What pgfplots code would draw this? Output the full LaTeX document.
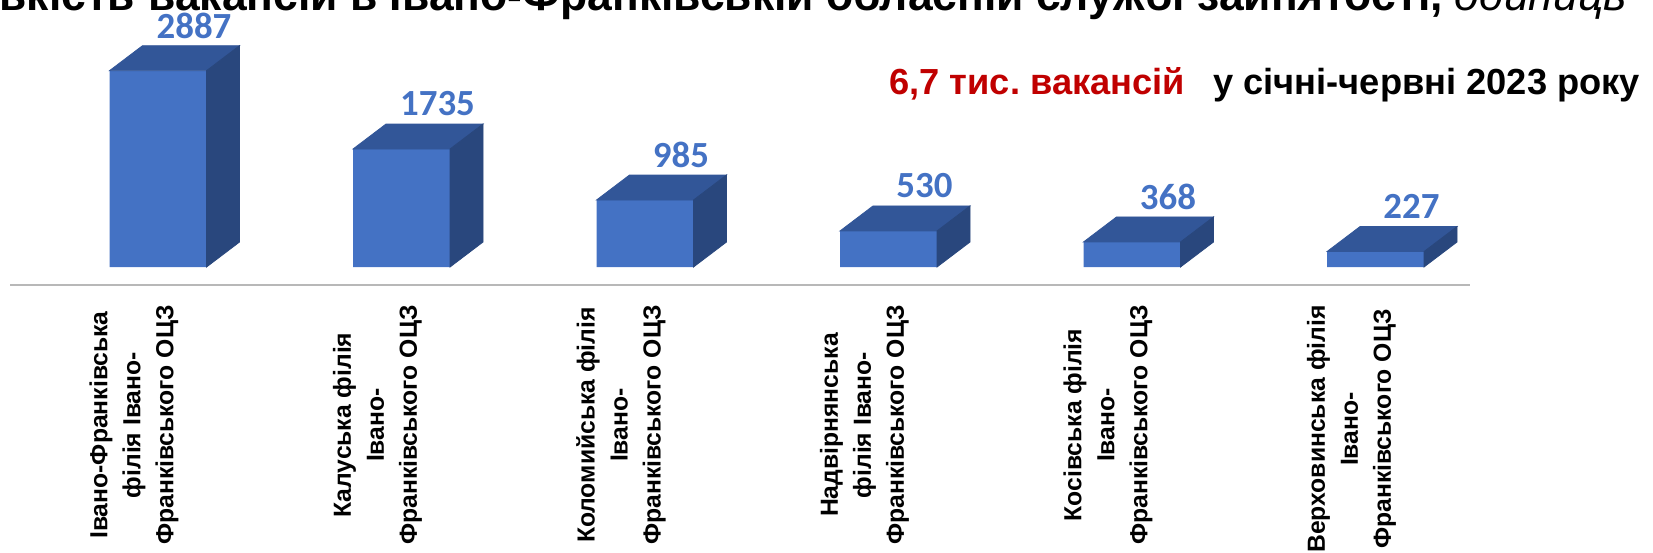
\documentclass[border=0pt]{standalone}
\usepackage{fontspec}
\setmainfont{Liberation Sans}
\newfontfamily\carlito{Carlito}
\usepackage{pgfplots}
\usepackage{pgfplotstable}
\pgfplotsset{compat=1.18}
\frenchspacing
\definecolor{barfront}{RGB}{68,114,196}
\definecolor{bartop}{RGB}{50,86,152}
\definecolor{barside}{RGB}{41,71,125}
\definecolor{lblue}{RGB}{68,114,196}
\definecolor{darkred}{RGB}{192,0,0}
\pgfdeclareplotmark{emptymark}{}
\pgfplotstableread{
x v lab
0 2887 2887
1 1735 1735
2 985 985
3 530 530
4 368 368
5 227 227
}\data
\begin{document}
\begin{tikzpicture}
\useasboundingbox (0,0) rectangle (826.5bp,276.5bp);
\clip (0,0) rectangle (826.5bp,276.5bp);
% title (cut at top as in the reference)
\node[anchor=base east, inner sep=0pt, font=\bfseries\fontsize{22.3}{26}\selectfont] at (67.8bp,271bp) {Кількість};
\node[anchor=base west, inner sep=0pt, font=\bfseries\fontsize{22.3}{26}\selectfont] at (74bp,271bp) {вакансій в Івано-Франківській обласній службі зайнятості, {\mdseries\itshape одиниць}};
% subtitle
\node[anchor=base west, inner sep=0pt, font=\bfseries\fontsize{18.2}{22}\selectfont] at (444.5bp,229bp) {{\color{darkred}6,7 тис. вакансій}\hspace{0.5em} у січні-червні 2023 року};
% floor line
\draw[line width=1bp, black!28] (5bp,134bp) -- (735bp,134bp);
\begin{axis}[
  at={(5.95bp,143bp)}, anchor=south west,
  scale only axis, width=754.85bp, height=102bp,
  xmin=-0.6, xmax=5.6, ymin=0, ymax=3000,
  enlargelimits=false, clip=false,
  axis line style={draw=none}, tick style={draw=none},
  ytick=\empty,
  xtick={0,1,2,3,4,5},
  xticklabels={{Івано-Франківська\\філія Івано-\\Франківського ОЦЗ},
               {Калуська філія\\Івано-\\Франківського ОЦЗ},
               {Коломийська філія\\Івано-\\Франківського ОЦЗ},
               {Надвірнянська\\філія Івано-\\Франківського ОЦЗ},
               {Косівська філія\\Івано-\\Франківського ОЦЗ},
               {Верховинська філія\\Івано-\\Франківського ОЦЗ}},
  xticklabel style={font=\bfseries\fontsize{12.4}{16.6}\selectfont, xshift=-12bp, yshift=-19bp, rotate=90, anchor=east, align=center, inner sep=0pt},
]
\addplot[ybar, bar width=48.5bp, fill=barfront, draw=none] table[x=x,y=v] {\data};
\addplot[scatter, only marks, mark=emptymark,
  visualization depends on={\thisrow{v} \as \val},
  scatter/@pre marker code/.code={%
    \pgfmathsetmacro\H{\val*0.034128}%
    \fill[bartop] (-24.25bp,0pt) -- (24.25bp,0pt) -- (40.75bp,12.5bp) -- (-7.75bp,12.5bp) -- cycle;
    \fill[barside] (24.25bp,0pt) -- (40.75bp,12.5bp) -- (40.75bp,12.5bp-\H pt) -- (24.25bp,-\H pt) -- cycle;
  },
  scatter/@post marker code/.code={},
] table[x=x,y=v] {\data};
\addplot[draw=none, mark=none, nodes near coords, point meta=explicit symbolic,
  every node near coord/.append style={anchor=center, xshift=18bp, yshift=22.5bp, font=\carlito\bfseries\fontsize{18.5}{22}\selectfont, text=lblue}]
  table[x=x,y=v,meta=lab] {\data};
\end{axis}
\end{tikzpicture}
\end{document}
